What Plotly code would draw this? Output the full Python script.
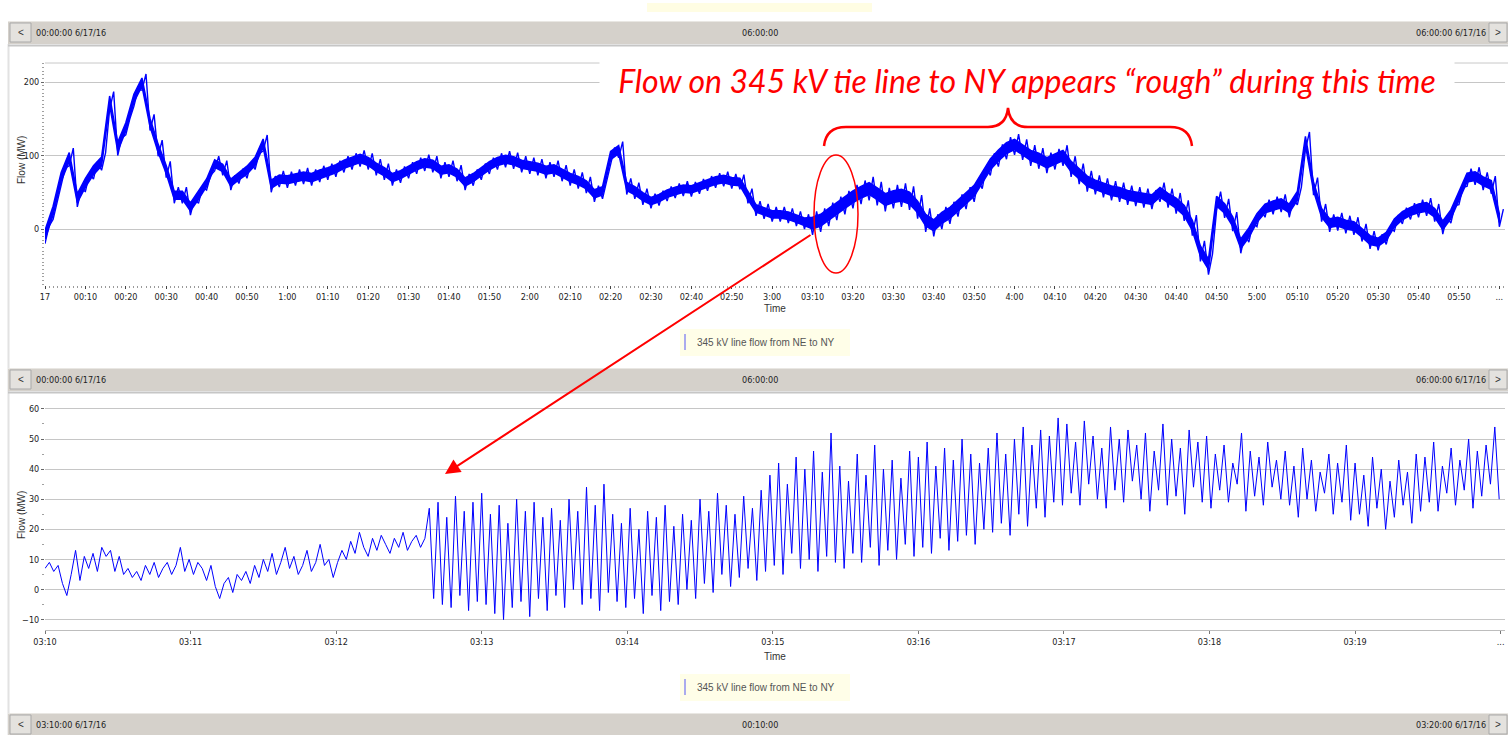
import plotly.graph_objects as go

W, H = 1508, 735

# ---------------- data: top chart (00:00 - 06:00, minutes) ----------------
top_times = list(range(0, 361, 2))
top_mid = [
    -8, 25, 71, 98, 42, 63, 80, 92, 175, 112,
    139, 178, 200, 145, 110, 81, 46, 46, 30, 46,
    63, 89, 83, 63, 72, 80, 92, 117, 61, 68,
    67, 70, 72, 70, 75, 78, 82, 88, 92, 96,
    92, 84, 78, 70, 74, 80, 86, 90, 88, 80,
    82, 76, 64, 70, 78, 86, 92, 95, 93, 88,
    86, 84, 80, 82, 76, 70, 66, 60, 48, 52,
    100, 108, 58, 52, 44, 38, 42, 48, 52, 55,
    54, 58, 62, 66, 68, 65, 64, 45, 28, 24,
    20, 20, 18, 14, 10, 8, 12, 20, 28, 36,
    44, 50, 55, 48, 40, 44, 46, 42, 30, 12,
    5, 15, 22, 32, 42, 52, 70, 88, 100, 110,
    115, 108, 100, 96, 90, 95, 100, 85, 75, 65,
    60, 56, 52, 50, 46, 44, 42, 40, 50, 42,
    35, 25, 5, -30, -48, 38, 28, 10, -20, -5,
    15, 28, 32, 35, 28, 45, 120, 58, 22, 8,
    10, 6, 4, -5, -15, -18, -10, 8, 18, 24,
    28, 30, 22, 5, 20, 45, 70, 72, 65, 60,
    15,
]
# half-width of the noise band per 10-minute block
top_spread = [12, 12, 11, 11, 10, 11, 11, 11, 11, 11, 11, 11, 11, 11, 11, 10, 10, 10,
              10, 16, 16, 16, 15, 15, 14, 14, 13, 13, 14, 13, 12, 12, 12, 11, 12, 12]
# fraction of the band that is densely filled (solid core)
core_fraction = 0.5
top_ticks = list(range(0, 361, 10))
top_ticktext = ['17', '00:10', '00:20', '00:30', '00:40', '00:50', '1:00',
                '01:10', '01:20', '01:30', '01:40', '01:50', '2:00',
                '02:10', '02:20', '02:30', '02:40', '02:50', '3:00',
                '03:10', '03:20', '03:30', '03:40', '03:50', '4:00',
                '04:10', '04:20', '04:30', '04:40', '04:50', '5:00',
                '05:10', '05:20', '05:30', '05:40', '05:50', '...']

# ---------------- data: bottom chart (03:10 - 03:20, minutes) ----------------
bottom_step = 0.03  # minutes between samples
bottom_pre = [
    7, 9, 6, 8, 2, -2, 5, 13, 3, 11, 7, 12, 6, 14, 11, 13, 6, 11, 5, 7,
    4, 6, 3, 8, 5, 9, 4, 7, 9, 5, 8, 14, 6,
    10, 5, 9, 7, 3, 8, 1, -3, 2, 4, -1, 5, 3, 6,
    2, 8, 4, 10, 6, 12, 5, 9, 14, 7, 11, 5, 8, 13, 6, 9, 15, 8, 10, 4,
    9, 13, 10, 16, 12, 19, 14, 11, 17, 13, 18, 15, 12, 17, 14, 19, 13, 16, 18, 14, 17,
]
osc_peaks = [
    27, 29, 24, 31, 26, 29,
    32, 25, 28, 22, 30, 26, 29, 24,
    27, 23, 30, 26, 34, 28, 35, 25,
    22, 27, 20, 26, 24, 28, 21, 25, 23,
    30, 26, 32, 28, 25, 31, 27, 33,
    38, 42, 35, 44, 40, 46, 39, 52,
    41, 36, 45, 38, 48, 40, 43, 37, 46,
    44, 49, 41, 47, 43, 50, 45, 42,
    47, 52, 45, 50, 54, 48, 53, 51, 57,
    55, 49, 56, 51, 47, 54, 50, 53,
    48, 52, 46, 55, 50, 47, 53, 49,
    51, 45, 48, 42, 52, 46, 44, 49, 43,
    46, 41, 47, 43, 39, 45, 42, 48,
    42, 38, 44, 40, 36, 43, 39, 45,
    44, 49, 41, 47, 43, 50, 46, 48, 54,
]
osc_troughs = [
    -3, -5, -6, -2, -7, -4,
    -5, -8, -10, -6, -4, -9, -3, -7,
    -2, -6, 0, -5, -3, -7, -1, -4,
    -6, -3, -8, -2, -7, -4, -5, 0, -3,
    2, -1, 5, 1, 4, 7, 3, 6,
    8, 5, 12, 7, 10, 6, 11, 9,
    7, 12, 9, 14, 8, 13, 10, 15, 11,
    14, 12, 17, 13, 16, 18, 15, 20,
    19, 22, 18, 25, 21, 27, 24, 29, 28,
    32, 28, 35, 30, 27, 33, 29, 36,
    30, 26, 33, 28, 31, 25, 34, 29,
    27, 33, 29, 35, 26, 31, 28, 34, 30,
    28, 24, 30, 26, 32, 25, 29, 23,
    25, 21, 27, 20, 24, 28, 22, 26,
    29, 26, 32, 28, 33, 27, 31, 35, 30,
]
bottom_ticks = list(range(0, 11))
bottom_ticktext = ['03:10', '03:11', '03:12', '03:13', '03:14', '03:15',
                   '03:16', '03:17', '03:18', '03:19', '...']

# ---------------- build series ----------------
core_upper, core_lower = [], []
zig_x, zig_y = [], []
for t, m in zip(top_times, top_mid):
    hw = top_spread[min(int(t // 10), len(top_spread) - 1)]
    core_upper.append(m + hw * core_fraction)
    core_lower.append(m - hw * core_fraction)
    zig_x += [t, t + 1]
    zig_y += [m - hw, m + hw]
band_x = top_times + top_times[::-1]
band_y = core_upper + core_lower[::-1]

bottom_flow = list(bottom_pre)
for p, q in zip(osc_peaks, osc_troughs):
    bottom_flow += [p, q]
bottom_t = [i * bottom_step for i in range(len(bottom_flow))]

NARROW = "Liberation Sans Narrow, DejaVu Sans Condensed, sans-serif"
SANS = "Liberation Sans, Arial, sans-serif"


def X(px):
    return px / W


def Y(py):
    return 1 - py / H


fig = go.Figure()
fig.add_trace(go.Scatter(x=band_x, y=band_y, mode='lines', fill='toself',
                         fillcolor='#0000ff',
                         line=dict(color='#0000ff', width=1.5),
                         xaxis='x', yaxis='y', hoverinfo='skip'))
fig.add_trace(go.Scatter(x=zig_x, y=zig_y, mode='lines',
                         line=dict(color='#0000ff', width=1.4),
                         xaxis='x', yaxis='y', hoverinfo='skip'))
fig.add_trace(go.Scatter(x=bottom_t, y=bottom_flow, mode='lines',
                         line=dict(color='#0000ff', width=1),
                         xaxis='x2', yaxis='y2', hoverinfo='skip'))

shapes = []
annotations = []


def rect(x0, y0, x1, y1, fill, line=None, lw=0):
    shapes.append(dict(type='rect', xref='paper', yref='paper',
                       x0=X(x0), x1=X(x1), y0=Y(y1), y1=Y(y0),
                       fillcolor=fill, line=dict(color=line or fill, width=lw),
                       layer='above'))


def hline(x0, x1, y, color, w=1):
    shapes.append(dict(type='line', xref='paper', yref='paper',
                       x0=X(x0), x1=X(x1), y0=Y(y), y1=Y(y),
                       line=dict(color=color, width=w), layer='above'))


def vline(x, y0, y1, color, w=1):
    shapes.append(dict(type='line', xref='paper', yref='paper',
                       x0=X(x), x1=X(x), y0=Y(y0), y1=Y(y1),
                       line=dict(color=color, width=w), layer='above'))


def text(x, y, s, size=9, anchor='left', family=NARROW, color='#222', angle=0):
    annotations.append(dict(xref='paper', yref='paper', x=X(x), y=Y(y), text=s,
                            showarrow=False, xanchor=anchor, yanchor='middle',
                            textangle=angle, borderpad=0,
                            font=dict(family=family, size=size, color=color)))


# faint yellow strip at very top
rect(647, 3, 872, 12, '#fffde3')
# window frame line on left
vline(8.5, 44, 735, '#e2e2e2', 2)


def scrollbar(y0, left, mid, right):
    rect(8, y0, 1508, y0 + 23, '#d5d1cb')
    hline(8, 1508, y0 + 0.5, '#e9e7e3', 1)
    hline(8, 1508, y0 + 24.5, '#c6c6c6', 2)
    rect(10, y0 + 2, 31, y0 + 21, '#e4e2de', '#a9a9a9', 1)
    rect(1489, y0 + 2, 1507, y0 + 21, '#e4e2de', '#a9a9a9', 1)
    text(20.5, y0 + 11.5, '&lt;', size=10, anchor='center', family=SANS, color='#333')
    text(1498, y0 + 11.5, '&gt;', size=10, anchor='center', family=SANS, color='#333')
    text(35, y0 + 11.5, left)
    text(760, y0 + 11.5, mid, anchor='center')
    text(1487, y0 + 11.5, right, anchor='right')


scrollbar(21, '00:00:00 6/17/16', '06:00:00', '06:00:00 6/17/16')
scrollbar(368, '00:00:00 6/17/16', '06:00:00', '06:00:00 6/17/16')
scrollbar(713, '03:10:00 6/17/16', '00:10:00', '03:20:00 6/17/16')

# top plot upper border
hline(45, 1508, 63, '#c8c8c8', 1)

# legends
for ly in (329, 674):
    rect(680, ly, 850, ly + 27, '#fffee8')
    vline(685, ly + 5, ly + 21, '#8f8ff0', 1.5)
    text(696, ly + 13, '345 kV line flow from NE to NY', size=10, family=SANS, color='#555')

# axis titles
text(775, 309, 'Time', size=10, anchor='center', family=SANS, color='#333')
text(775, 656, 'Time', size=10, anchor='center', family=SANS, color='#333')
text(21, 160, 'Flow (MW)', size=10, anchor='center', family=SANS, color='#333', angle=-90)
text(21, 515, 'Flow (MW)', size=10, anchor='center', family=SANS, color='#333', angle=-90)

# red callout text
annotations.append(dict(xref='paper', yref='paper', x=X(1027), y=Y(80),
                        text='Flow on 345 kV tie line to NY appears \u201crough\u201d during this time',
                        showarrow=False, xanchor='center', yanchor='middle',
                        width=852, height=40, bgcolor='white',
                        font=dict(family='Lato, Open Sans, sans-serif', size=32,
                                  color='#ff0000', style='italic')))

# brace
pts = [(824, 146), (826, 127), (846, 127), (988, 127), (1006, 127), (1008, 108),
       (1010, 127), (1028, 127), (1170, 127), (1190, 127), (1192, 146)]
P = [(X(a), Y(b)) for a, b in pts]
path = (f"M {P[0][0]},{P[0][1]} Q {P[1][0]},{P[1][1]} {P[2][0]},{P[2][1]} "
        f"L {P[3][0]},{P[3][1]} Q {P[4][0]},{P[4][1]} {P[5][0]},{P[5][1]} "
        f"Q {P[6][0]},{P[6][1]} {P[7][0]},{P[7][1]} L {P[8][0]},{P[8][1]} "
        f"Q {P[9][0]},{P[9][1]} {P[10][0]},{P[10][1]}")
shapes.append(dict(type='path', xref='paper', yref='paper', path=path,
                   line=dict(color='#ff0000', width=2.5), layer='above'))

# ellipse
shapes.append(dict(type='circle', xref='paper', yref='paper',
                   x0=X(814), x1=X(858), y0=Y(273), y1=Y(155),
                   line=dict(color='#ff0000', width=1.5), layer='above'))

# arrow
annotations.append(dict(xref='paper', yref='paper', x=X(445), y=Y(474),
                        ax=367, ay=-240, axref='pixel', ayref='pixel',
                        text='', showarrow=True, arrowhead=2, arrowsize=1.5,
                        arrowwidth=2, arrowcolor='#ff0000', standoff=0))

tickfont = dict(family=NARROW, size=9, color='#222')
fig.update_layout(
    width=W, height=H, margin=dict(l=0, r=0, t=0, b=0, autoexpand=False),
    paper_bgcolor='white', plot_bgcolor='white', showlegend=False,
    xaxis=dict(domain=[X(45), X(1505)], range=[0, 361.4], anchor='y',
               automargin=False,
               tickmode='array', tickvals=top_ticks, ticktext=top_ticktext,
               ticks='outside', ticklen=3, tickcolor='#444', tickfont=tickfont,
               showgrid=False, zeroline=False, showline=False,
               minor=dict(tickmode='linear', tick0=0, dtick=1, ticks='outside',
                          ticklen=2, tickcolor='#9a9a9a', showgrid=False)),
    yaxis=dict(domain=[Y(285), Y(63)], range=[-76.2, 225.9], anchor='x',
               automargin=False,
               tickmode='array', tickvals=[0, 100, 200],
               ticks='outside', ticklen=3, tickcolor='#666', tickfont=tickfont,
               showgrid=True, gridcolor='#c6c6c6', gridwidth=1,
               zeroline=False, showline=False,
               minor=dict(tickmode='linear', tick0=0, dtick=5, ticks='outside',
                          ticklen=2, tickcolor='#a0a0a0', showgrid=False)),
    xaxis2=dict(domain=[X(45), X(1505)], range=[0, 10.03], anchor='y2',
                automargin=False,
                tickmode='array', tickvals=bottom_ticks, ticktext=bottom_ticktext,
                ticks='outside', ticklen=3, tickcolor='#777', tickfont=tickfont,
                showgrid=False, zeroline=False, showline=True,
                linecolor='#bdbdbd', linewidth=1),
    yaxis2=dict(domain=[Y(630), Y(400)], range=[-13.45, 62.96], anchor='x2',
                automargin=False,
                tickmode='array', tickvals=[-10, 0, 10, 20, 30, 40, 50, 60],
                ticks='outside', ticklen=3, tickcolor='#666', tickfont=tickfont,
                showgrid=True, gridcolor='#c6c6c6', gridwidth=1,
                zeroline=False, showline=False,
                minor=dict(tickmode='linear', tick0=0, dtick=5, ticks='outside',
                           ticklen=2, tickcolor='#a0a0a0', showgrid=False)),
    shapes=shapes, annotations=annotations,
)

fig.write_html("out.html", config={'displayModeBar': False},
               post_script="document.body.style.margin='0px';"
                           "document.body.style.overflow='hidden';")
